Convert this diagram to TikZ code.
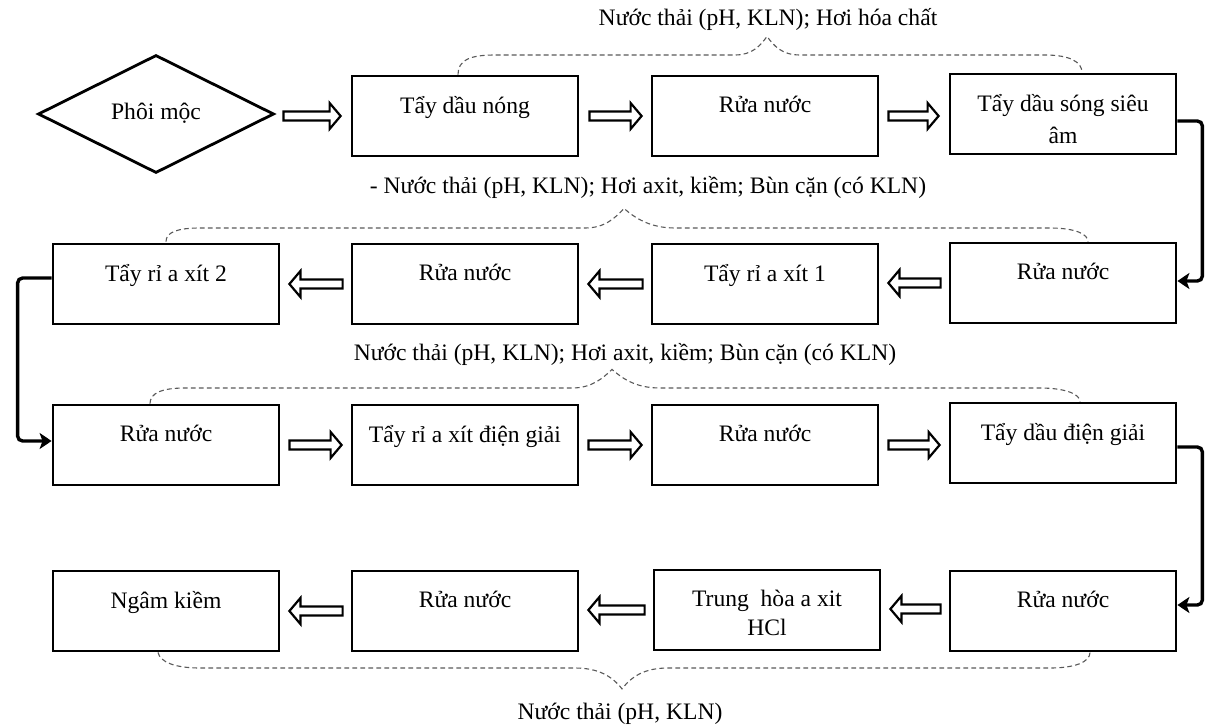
\documentclass[tikz,border=0pt]{standalone}
\usepackage{fontspec}
\setmainfont{Liberation Serif}
\usetikzlibrary{shapes.geometric,calc,arrows.meta}

% text of a process box, set near the top of the box
\newcommand\stagetext[1]{\parbox[c][20pt][t]{106pt}{\centering #1}}

\begin{document}
\begin{tikzpicture}[x=0.5pt,y=-0.5pt,
  every node/.style={font=\fontsize{11.8}{15}\selectfont},
  stagebox/.style={draw,line width=1.4pt,minimum width=113pt,minimum height=40pt,inner sep=0pt},
  startshape/.style={draw,diamond,aspect=2,line width=1.4pt,minimum width=118pt,minimum height=59pt,inner sep=0pt},
  note/.style={inner sep=1pt},
  % hollow block arrow between two points on the same level
  blockarrow/.style={draw,line width=1.1pt,fill=white,line join=miter,
    to path={let \p1=(\tikztostart), \p2=(\tikztotarget), \n1={ifthenelse(\x2>\x1,1,-1)} in
      (\x1,\y1+2.25pt) -- ({\x2-(\n1)*5.5pt},\y1+2.25pt) -- ({\x2-(\n1)*5.5pt},\y1+6.5pt)
      -- (\x2,\y1) -- ({\x2-(\n1)*5.5pt},\y1-6.5pt) -- ({\x2-(\n1)*5.5pt},\y1-2.25pt)
      -- (\x1,\y1-2.25pt) -- cycle}},
  flow/.style={draw,line width=1.7pt,rounded corners=2.5pt,-{Stealth[length=6pt,width=8pt,inset=1.5pt]}},
  brace/.style={draw,gray!70!black,line width=0.55pt,dash pattern=on 2.4pt off 1.6pt}
]
\useasboundingbox (0,0) rectangle (1210,728);

% ---- row 1 ----
\node[startshape] (phoi) at (156,114) {\raisebox{3pt}{Phôi mộc}};
\node[stagebox] (r1c2) at (465,116) {\stagetext{Tẩy dầu nóng}};
\node[stagebox] (r1c3) at (765,116) {\stagetext{Rửa nước}};
\node[stagebox,font=\fontsize{11.8}{16}\selectfont] (r1c4) at (1063,114) {\stagetext{Tẩy dầu sóng siêu\\âm}};

% ---- row 2 ----
\node[stagebox] (r2c1) at (166,284) {\stagetext{Tẩy rỉ a xít 2}};
\node[stagebox] (r2c2) at (465,284) {\stagetext{Rửa nước}};
\node[stagebox] (r2c3) at (765,284) {\stagetext{Tẩy rỉ a xít 1}};
\node[stagebox] (r2c4) at (1063,283) {\stagetext{Rửa nước}};

% ---- row 3 ----
\node[stagebox] (r3c1) at (166,445) {\stagetext{Rửa nước}};
\node[stagebox] (r3c2) at (465,445) {\stagetext{Tẩy rỉ a xít điện giải}};
\node[stagebox] (r3c3) at (765,445) {\stagetext{Rửa nước}};
\node[stagebox] (r3c4) at (1063,443) {\stagetext{Tẩy dầu điện giải}};

% ---- row 4 ----
\node[stagebox] (r4c1) at (166,611) {\stagetext{Ngâm kiềm}};
\node[stagebox] (r4c2) at (465,611) {\stagetext{Rửa nước}};
\node[stagebox,font=\fontsize{11.8}{14.5}\selectfont] (r4c3) at (767,610) {\stagetext{Trung\ \ hòa a xit\\HCl}};
\node[stagebox] (r4c4) at (1063,611) {\stagetext{Rửa nước}};

% ---- emission notes ----
\node[note] (n1) at (768,19) {Nước thải (pH, KLN); Hơi hóa chất};
\node[note] (n2) at (648,187) {- Nước thải (pH, KLN); Hơi axit, kiềm; Bùn cặn (có KLN)};
\node[note] (n3) at (625,354) {Nước thải (pH, KLN); Hơi axit, kiềm; Bùn cặn (có KLN)};
\node[note] (n4) at (620,714) {Nước thải (pH, KLN)};

% ---- hollow arrows along each row ----
\draw[blockarrow] ($(phoi.east)+(8,2)$) to ($(r1c2.west)+(-10,0)$);
\draw[blockarrow] ($(r1c2.east)+(10,0)$) to ($(r1c3.west)+(-9,0)$);
\draw[blockarrow] ($(r1c3.east)+(9,0)$) to ($(r1c4.west)+(-10,2)$);

\draw[blockarrow] ($(r2c4.west)+(-8,0)$) to ($(r2c3.east)+(9,0)$);
\draw[blockarrow] ($(r2c3.west)+(-8,0)$) to ($(r2c2.east)+(9,0)$);
\draw[blockarrow] ($(r2c2.west)+(-8,0)$) to ($(r2c1.east)+(9,0)$);

\draw[blockarrow] ($(r3c1.east)+(9,0)$) to ($(r3c2.west)+(-9,0)$);
\draw[blockarrow] ($(r3c2.east)+(9,0)$) to ($(r3c3.west)+(-9,0)$);
\draw[blockarrow] ($(r3c3.east)+(9,0)$) to ($(r3c4.west)+(-9,2)$);

\draw[blockarrow] ($(r4c4.west)+(-8,-2)$) to ($(r4c3.east)+(9,0)$);
\draw[blockarrow] ($(r4c3.west)+(-8,0)$) to ($(r4c2.east)+(9,0)$);
\draw[blockarrow] ($(r4c2.west)+(-8,0)$) to ($(r4c1.east)+(9,0)$);

% ---- row-to-row connectors ----
\draw[flow] ($(r1c4.east)+(0,7)$) -- ++(25,0) |- ($(r2c4.east)+(0,-2)$);
\draw[flow] ($(r2c1.west)+(0,-6)$) -- ++(-34,0) |- ($(r3c1.west)+(0,-4)$);
\draw[flow] ($(r3c4.east)+(0,4)$) -- ++(25,0) |- ($(r4c4.east)+(0,-6)$);

% ---- dashed braces from the notes to the stages ----
\coordinate (p1) at ($(n1.south)+(-1,4)$);
\coordinate (p2) at ($(n2.south)+(-24,8)$);
\coordinate (p3) at ($(n3.south)+(-13,2)$);
\coordinate (p4) at ($(n4.north)+(2,-12)$);

\draw[brace] ($(r1c2.north)+(-7,0)$) .. controls (458,60) and (470,55) .. (495,55)
  -- (735,55) .. controls (752,55) and (760,46) .. (p1)
  .. controls (774,46) and (782,55) .. (800,55) -- (1045,55)
  .. controls (1070,55) and (1082,62) .. ($(r1c4.north)+(19,0)$);

\draw[brace] ($(r2c1.north)+(0,-1)$) .. controls (166,232) and (178,228) .. (200,228)
  -- (585,228) .. controls (605,228) and (615,218) .. (p2)
  .. controls (635,218) and (650,228) .. (675,228) -- (1050,228)
  .. controls (1075,228) and (1088,234) .. ($(r2c4.north)+(25,0)$);

\draw[brace] ($(r3c1.north)+(-16,0)$) .. controls (150,393) and (162,388) .. (185,388)
  -- (572,388) .. controls (592,388) and (603,378) .. (p3)
  .. controls (622,378) and (635,388) .. (660,388) -- (1040,388)
  .. controls (1065,388) and (1080,394) .. ($(r3c4.north)+(17,0)$);

\draw[brace] ($(r4c1.south)+(-8,0)$) .. controls (160,662) and (175,668) .. (200,668)
  -- (575,668) .. controls (598,668) and (612,676) .. (p4)
  .. controls (632,676) and (645,668) .. (668,668) -- (1050,668)
  .. controls (1075,668) and (1090,662) .. ($(r4c4.south)+(27,0)$);
\end{tikzpicture}
\end{document}
